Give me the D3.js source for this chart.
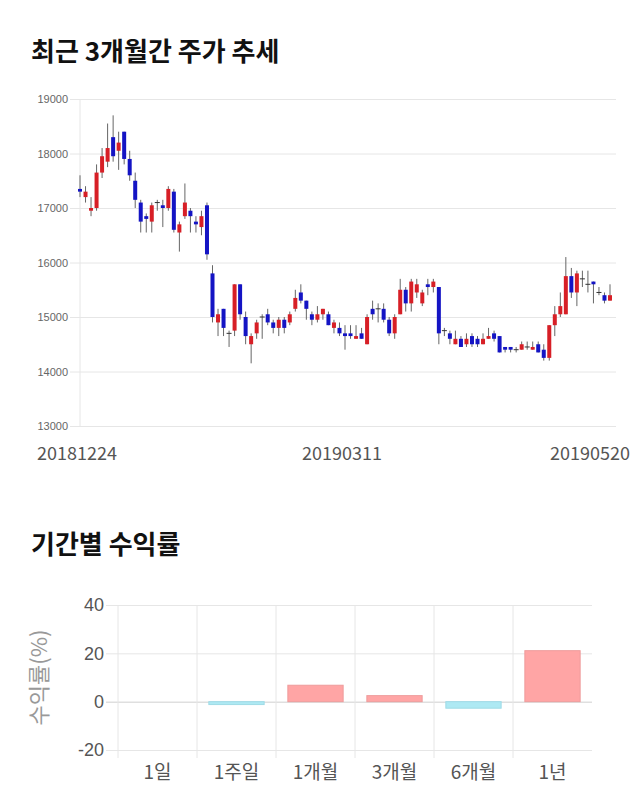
<!DOCTYPE html>
<html>
<head>
<meta charset="utf-8">
<script src="https://cdn.jsdelivr.net/npm/d3@7"></script>
<style>
  body { margin: 0; background: #fff; }
  svg { display: block; }
  .grid line { stroke: #e6e6e6; }
  .grid .domain { display: none; }
</style>
</head>
<body>
<svg id="chart"></svg>
<script>
// Trading days shown on the price chart
var dates = [
  "20181224","20181226","20181227","20181228",
  "20190102","20190103","20190104","20190107","20190108","20190109","20190110","20190111",
  "20190114","20190115","20190116","20190117","20190118","20190121","20190122","20190123",
  "20190124","20190125","20190128","20190129","20190130","20190131",
  "20190201","20190207","20190208","20190211","20190212","20190213","20190214","20190215",
  "20190218","20190219","20190220","20190221","20190222","20190225","20190226","20190227","20190228",
  "20190304","20190305","20190306","20190307","20190308","20190311","20190312","20190313",
  "20190314","20190315","20190318","20190319","20190320","20190321","20190322","20190325",
  "20190326","20190327","20190328","20190329",
  "20190401","20190402","20190403","20190404","20190405","20190408","20190409","20190410",
  "20190411","20190412","20190415","20190416","20190417","20190418","20190419","20190422",
  "20190423","20190424","20190425","20190426","20190429","20190430",
  "20190502","20190503","20190507","20190508","20190509","20190510","20190513","20190514",
  "20190515","20190516","20190517","20190520"
];

var opens = [
  17350,17200,16950,17000,17650,17850,18300,18050,18400,17900,
  17500,17100,16850,16750,17100,17050,17000,17300,16550,16850,
  16950,16750,16650,17050,15800,14900,15150,14700,14750,15600,
  15000,14500,14700,15000,15050,14900,14800,14950,14900,15150,
  15450,15300,15050,14950,15050,15050,14800,14800,14700,14700,
  14600,14700,14500,15150,15150,15150,14950,14700,15050,15500,
  15250,15450,15250,15600,15550,15550,14750,14700,14500,14600,
  14500,14650,14600,14500,14600,14700,14650,14450,14450,14400,
  14400,14450,14400,14500,14400,14250,14850,15050,15050,15750,
  15450,15700,15600,15650,15450,15400,15300
];
var highs = [
  17600,17400,17200,17800,18100,18550,18700,18400,18400,18050,
  17650,17150,16900,17100,17150,17150,17400,17350,16750,17450,
  17000,16850,16950,17100,15950,15150,15150,14750,15600,15600,
  15100,14700,14950,15050,15150,14950,15000,15000,15100,15500,
  15600,15300,15100,15200,15150,15100,14950,14900,14850,14850,
  14850,14800,15050,15300,15250,15250,15000,15050,15700,15550,
  15700,15700,15500,15700,15700,15550,14800,14750,14750,14650,
  14700,14700,14650,14700,14800,14750,14650,14450,14450,14450,
  14550,14550,14550,14550,14500,14850,15200,15450,16100,15900,
  15850,15850,15850,15650,15550,15450,15600
];
var lows = [
  17200,17100,16850,16950,17550,17750,17850,17700,17800,17500,
  17000,16550,16550,16550,16950,16650,16950,16550,16200,16800,
  16550,16550,16500,16050,14900,14650,14650,14450,14650,14950,
  14500,14150,14600,14600,14850,14700,14650,14700,14850,15100,
  15250,14950,14850,14900,14950,14850,14700,14650,14400,14600,
  14600,14600,14500,14950,14900,14900,14650,14600,15050,15100,
  15100,15350,15200,15400,15450,14500,14650,14500,14500,14450,
  14450,14450,14450,14500,14600,14550,14350,14350,14350,14350,
  14400,14400,14400,14350,14200,14200,14650,15000,15050,15350,
  15200,15550,15450,15250,15400,15250,15300
];
var closes = [
  17300,17300,17000,17650,17950,18100,17950,18200,17900,17600,
  17150,16750,16800,17050,17100,17000,17350,16600,16700,17100,
  16850,16700,16850,16150,15000,15050,14800,14700,15600,15050,
  14650,14650,14900,15000,14900,14800,14950,14800,15050,15350,
  15300,15150,14950,15050,15150,14850,14900,14700,14650,14650,
  14650,14600,15000,15050,15150,14950,14700,15000,15500,15250,
  15650,15600,15450,15550,15650,14700,14750,14600,14600,14450,
  14600,14500,14500,14600,14650,14600,14350,14400,14400,14400,
  14500,14450,14450,14350,14250,14850,15050,15200,15750,15450,
  15800,15700,15600,15600,15450,15300,15400
];
var priceTicks = [13000, 14000, 15000, 16000, 17000, 18000, 19000];
var dateLabels = ["20181224", "20190311", "20190520"];

// Period returns
var periods = ["1일", "1주일", "1개월", "3개월", "6개월", "1년"];
var returns = [0, -1.2, 6.8, 2.5, -2.7, 21.1];
var returnTicks = [-20, 0, 20, 40];

var width = 640, height = 810;
var svg = d3.select("#chart").attr("width", width).attr("height", height);

var candles = dates.map(function(d, i) {
  return { date: d, o: opens[i], h: highs[i], l: lows[i], c: closes[i] };
});

// ---- Title 1
svg.append("text")
  .attr("x", 31).attr("y", 61)
  .style("font-family", "'Noto Sans CJK KR', 'Noto Sans', sans-serif")
  .style("font-size", "26px").style("font-weight", "bold").style("fill", "#111")
  .text("최근 3개월간 주가 추세");

// ---- Price chart
var x = d3.scalePoint().domain(dates).range([80, 610]);
var y = d3.scaleLinear().domain([13000, 19000]).range([426, 99]);

svg.append("g")
  .attr("class", "grid")
  .attr("transform", "translate(70,0)")
  .call(d3.axisLeft(y).tickValues(priceTicks).tickSize(-546).tickPadding(2).tickFormat(function(d) { return String(d); }))
  .call(function(g) {
    g.selectAll("text")
      .style("font-family", "'Liberation Sans', Arial, sans-serif")
      .style("font-size", "11px").style("fill", "#666");
  });

svg.append("line")
  .attr("x1", 80).attr("x2", 80)
  .attr("y1", y(19000)).attr("y2", y(13000))
  .style("stroke", "#e6e6e6");

var cg = svg.append("g").selectAll("g")
  .data(candles)
  .enter().append("g");

cg.append("line")
  .attr("x1", function(d) { return x(d.date); })
  .attr("x2", function(d) { return x(d.date); })
  .attr("y1", function(d) { return y(d.h); })
  .attr("y2", function(d) { return y(d.l); })
  .style("stroke", "#666")
  .style("stroke-width", 1);

cg.filter(function(d) { return d.o != d.c; })
  .append("rect")
  .attr("x", function(d) { return x(d.date) - 2; })
  .attr("width", 4)
  .attr("y", function(d) { return y(Math.max(d.o, d.c)); })
  .attr("height", function(d) { return Math.max(1, Math.abs(y(d.o) - y(d.c))); })
  .attr("fill", function(d) { return d.c > d.o ? "#d71f26" : "#1414c4"; });

cg.filter(function(d) { return d.o == d.c; })
  .append("line")
  .attr("x1", function(d) { return x(d.date) - 2.5; })
  .attr("x2", function(d) { return x(d.date) + 2.5; })
  .attr("y1", function(d) { return y(d.c); })
  .attr("y2", function(d) { return y(d.c); })
  .style("stroke", "#333");

svg.append("g").selectAll("text")
  .data(dateLabels)
  .enter().append("text")
  .attr("x", function(d, i) { return i == dateLabels.length - 1 ? 630 : x(d) - 3; })
  .attr("y", 460)
  .attr("text-anchor", function(d, i) { return i == dateLabels.length - 1 ? "end" : "middle"; })
  .style("font-family", "'Noto Sans CJK KR', 'Noto Sans', sans-serif")
  .style("font-size", "18px").style("fill", "#555")
  .text(function(d) { return d; });

// ---- Title 2
svg.append("text")
  .attr("x", 31).attr("y", 554)
  .style("font-family", "'Noto Sans CJK KR', 'Noto Sans', sans-serif")
  .style("font-size", "26px").style("font-weight", "bold").style("fill", "#111")
  .text("기간별 수익률");

// ---- Returns bar chart
var bx = d3.scaleBand().domain(periods).range([118, 592]).padding(0);
var by = d3.scaleLinear().domain([-20, 40]).range([750, 605]);

svg.append("g")
  .attr("class", "grid")
  .attr("transform", "translate(106,0)")
  .call(d3.axisLeft(by).tickValues(returnTicks).tickSize(-486).tickPadding(2).tickFormat(function(d) { return String(d); }))
  .call(function(g) {
    g.selectAll("line").style("stroke", function(d) { return d == 0 ? "#cfcfcf" : "#e6e6e6"; });
    g.selectAll("text")
      .style("font-family", "'Liberation Sans', Arial, sans-serif")
      .style("font-size", "18px").style("fill", "#555");
  });

svg.append("g").selectAll("line")
  .data(periods)
  .enter().append("line")
  .attr("x1", function(d) { return bx(d); })
  .attr("x2", function(d) { return bx(d); })
  .attr("y1", by(40)).attr("y2", by(-20) + 8)
  .style("stroke", "#e6e6e6");

var barW = bx.bandwidth() * 0.7;
svg.append("g").selectAll("rect")
  .data(periods)
  .enter().append("rect")
  .attr("x", function(d) { return bx(d) + (bx.bandwidth() - barW) / 2; })
  .attr("width", barW)
  .attr("y", function(d, i) { return by(Math.max(0, returns[i])); })
  .attr("height", function(d, i) { return Math.abs(by(returns[i]) - by(0)); })
  .attr("fill", function(d, i) { return returns[i] >= 0 ? "#ffa5a5" : "#aee9f3"; })
  .attr("stroke", function(d, i) { return returns[i] >= 0 ? "#ee9c9c" : "#9fdbe6"; })
  .attr("stroke-width", 1);

svg.append("g").selectAll("text")
  .data(periods)
  .enter().append("text")
  .attr("x", function(d) { return bx(d) + bx.bandwidth() / 2; })
  .attr("y", 779)
  .attr("text-anchor", "middle")
  .style("font-family", "'Noto Sans CJK KR', 'Noto Sans', sans-serif")
  .style("font-size", "19px").style("fill", "#555")
  .text(function(d) { return d; });

svg.append("text")
  .attr("transform", "translate(47," + by(10) + ") rotate(-90)")
  .attr("text-anchor", "middle")
  .style("font-family", "'Noto Sans CJK KR', 'Noto Sans', sans-serif")
  .style("font-size", "22px").style("fill", "#999")
  .text("수익률(%)");
</script>
</body>
</html>
